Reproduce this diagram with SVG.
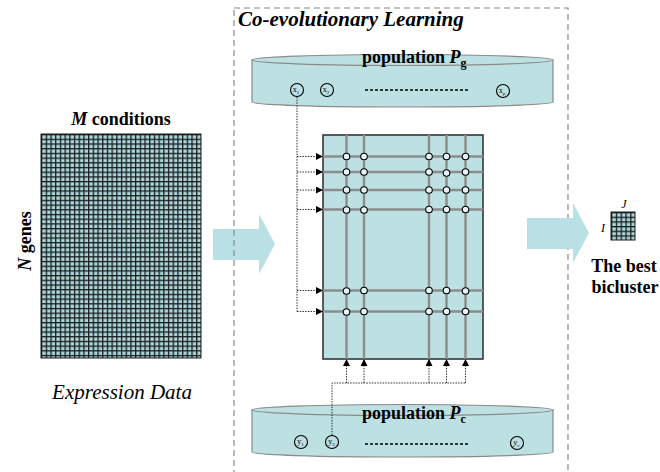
<svg xmlns="http://www.w3.org/2000/svg" width="660" height="472" viewBox="0 0 660 472">
  <style>
    text { font-family: "Liberation Serif", "DejaVu Serif", "Times New Roman", serif; fill: #000; }
    .lbl { font-weight: bold; font-size: 18px; }
    .cyl { fill: #bde0e3; stroke: #8a8a8a; stroke-width: 1.2; }
    .cylTop { fill: #bde0e3; stroke: #8a8a8a; stroke-width: 1.2; }
    .node { fill: none; stroke: #000; stroke-width: 1.1; }
    .nodeTxt { font-size: 8px; }
    .ellip { stroke: #000; stroke-width: 1.3; stroke-dasharray: 3 2; fill: none; }
    .gridLine { stroke: #8c8c8c; stroke-width: 2.4; fill: none; }
    .hit { fill: #e6f4f5; stroke: #000; stroke-width: 1.1; }
    .conn { stroke: #333; stroke-width: 1; stroke-dasharray: 1.5 1.2; fill: none; }
    .bigArrow { fill: #b9e0e4; }
  </style>
  <defs>
    <pattern id="cells" patternUnits="userSpaceOnUse" x="41" y="134" width="4.7" height="4.7">
      <rect width="4.7" height="4.7" fill="#1c1c1c"/>
      <rect x="1.3" y="1.3" width="3.4" height="3.4" fill="#a9d7dc"/>
    </pattern>
    <pattern id="biCells" patternUnits="userSpaceOnUse" x="611" y="212" width="4.8" height="4.67">
      <rect width="4.8" height="4.67" fill="#1c1c1c"/>
      <rect x="1.3" y="1.3" width="3.5" height="3.37" fill="#a9d7dc"/>
    </pattern>
    <marker id="tip" viewBox="0 0 10 10" refX="10" refY="5" markerWidth="7" markerHeight="7" markerUnits="userSpaceOnUse" orient="auto">
      <path d="M0,0 L10,5 L0,10 z" fill="#000"/>
    </marker>
  </defs>

  <rect width="660" height="472" fill="#fff"/>

  <!-- expression data matrix -->
  <g id="expression-data">
    <text class="lbl" x="121" y="125" text-anchor="middle"><tspan font-style="italic">M</tspan> conditions</text>
    <text class="lbl" transform="translate(31,241) rotate(-90)" text-anchor="middle"><tspan font-style="italic">N</tspan> genes</text>
    <rect x="41" y="134" width="160" height="224" fill="url(#cells)" stroke="#1c1c1c" stroke-width="1"/>
    <text x="122" y="399" text-anchor="middle" font-size="21" font-style="italic">Expression Data</text>
  </g>

  <!-- input arrow -->
  <g id="arrow-in">
    <path class="bigArrow" d="M213,229 L259,229 L259,214 L275,244 L259,274 L259,260 L213,260 z"/>
  </g>

  <!-- co-evolution frame -->
  <g id="coevolution-frame">
    <rect x="234" y="8" width="334" height="480" fill="none" stroke="#8a8a8a" stroke-width="1.2" stroke-dasharray="6 4"/>
    <text x="238" y="26" font-size="21" font-weight="bold" font-style="italic">Co-evolutionary Learning</text>
  </g>

  <!-- gene population -->
  <g id="population-g">
    <path class="cyl" d="M252,60 L252,102 A150.5,5 0 0 0 553,102 L553,60 z"/>
    <ellipse class="cylTop" cx="402.5" cy="60" rx="150.5" ry="5.5"/>
    <text class="lbl" x="362" y="63">population <tspan font-style="italic">P</tspan><tspan font-size="12" dy="4">g</tspan></text>
    <circle class="node" cx="297" cy="90" r="6.5"/>
    <text class="nodeTxt" x="296" y="92" text-anchor="middle">x<tspan font-size="5" dy="2">1</tspan></text>
    <circle class="node" cx="327" cy="90" r="6.5"/>
    <text class="nodeTxt" x="326" y="92" text-anchor="middle">x<tspan font-size="5" dy="2">2</tspan></text>
    <line class="ellip" x1="365" y1="90" x2="468" y2="90"/>
    <circle class="node" cx="503" cy="91" r="6.5"/>
    <text class="nodeTxt" x="502" y="93" text-anchor="middle">x<tspan font-size="5" dy="2">p</tspan></text>
  </g>

  <!-- condition population -->
  <g id="population-c">
    <path class="cyl" d="M252,410 L252,452 A150.5,5 0 0 0 553,452 L553,410 z"/>
    <ellipse class="cylTop" cx="402.5" cy="410" rx="150.5" ry="5.5"/>
    <text class="lbl" x="362" y="419">population <tspan font-style="italic">P</tspan><tspan font-size="12" dy="4">c</tspan></text>
    <circle class="node" cx="301" cy="442" r="6.5"/>
    <text class="nodeTxt" x="300.5" y="444" text-anchor="middle">y<tspan font-size="5" dy="1.5">1</tspan></text>
    <circle class="node" cx="332" cy="442" r="6.5"/>
    <text class="nodeTxt" x="331.5" y="444" text-anchor="middle">y<tspan font-size="5" dy="1.5">2</tspan></text>
    <line class="ellip" x1="365" y1="444" x2="468" y2="444"/>
    <circle class="node" cx="517" cy="443" r="6.5"/>
    <text class="nodeTxt" x="516.5" y="445" text-anchor="middle" font-style="italic">y<tspan font-size="5" dy="1.5">v</tspan></text>
  </g>

  <!-- candidate bicluster on the data matrix -->
  <g id="matrix">
    <rect x="323" y="135" width="160" height="224" fill="#bde0e3" stroke="#2a2a2a" stroke-width="1.5"/>
    <g class="gridLine">
      <line x1="323" y1="156.5" x2="483" y2="156.5"/>
      <line x1="323" y1="172" x2="483" y2="172"/>
      <line x1="323" y1="190" x2="483" y2="190"/>
      <line x1="323" y1="209.5" x2="483" y2="209.5"/>
      <line x1="323" y1="290.5" x2="483" y2="290.5"/>
      <line x1="323" y1="311.5" x2="483" y2="311.5"/>
      <line x1="346.5" y1="135" x2="346.5" y2="359"/>
      <line x1="364" y1="135" x2="364" y2="359"/>
      <line x1="429" y1="135" x2="429" y2="359"/>
      <line x1="446.5" y1="135" x2="446.5" y2="359"/>
      <line x1="465.5" y1="135" x2="465.5" y2="359"/>
    </g>
    <g class="hit">
      <circle cx="346.5" cy="156.5" r="3.3"/><circle cx="364" cy="156.5" r="3.3"/><circle cx="429" cy="156.5" r="3.3"/><circle cx="446.5" cy="156.5" r="3.3"/><circle cx="465.5" cy="156.5" r="3.3"/>
      <circle cx="346.5" cy="172" r="3.3"/><circle cx="364" cy="172" r="3.3"/><circle cx="429" cy="172" r="3.3"/><circle cx="446.5" cy="173" r="3.3"/><circle cx="465.5" cy="172" r="3.3"/>
      <circle cx="346.5" cy="190" r="3.3"/><circle cx="364" cy="190" r="3.3"/><circle cx="429" cy="190" r="3.3"/><circle cx="446.5" cy="190" r="3.3"/><circle cx="465.5" cy="190" r="3.3"/>
      <circle cx="346.5" cy="210" r="3.3"/><circle cx="364" cy="210" r="3.3"/><circle cx="429" cy="209.5" r="3.3"/><circle cx="446.5" cy="209.5" r="3.3"/><circle cx="465.5" cy="209.5" r="3.3"/>
      <circle cx="346.5" cy="291" r="3.3"/><circle cx="364" cy="290.5" r="3.3"/><circle cx="429" cy="290.5" r="3.3"/><circle cx="446.5" cy="290.5" r="3.3"/><circle cx="465.5" cy="291" r="3.3"/>
      <circle cx="346.5" cy="312" r="3.3"/><circle cx="364" cy="311.5" r="3.3"/><circle cx="429" cy="311.5" r="3.3"/><circle cx="446.5" cy="311.5" r="3.3"/><circle cx="465.5" cy="311.5" r="3.3"/>
    </g>
  </g>

  <!-- selection connectors -->
  <g id="connectors">
    <path class="conn" d="M297,97 V311.5"/>
    <line class="conn" x1="297" y1="156.5" x2="323" y2="156.5" marker-end="url(#tip)"/>
    <line class="conn" x1="297" y1="172" x2="323" y2="172" marker-end="url(#tip)"/>
    <line class="conn" x1="297" y1="190" x2="323" y2="190" marker-end="url(#tip)"/>
    <line class="conn" x1="297" y1="209.5" x2="323" y2="209.5" marker-end="url(#tip)"/>
    <line class="conn" x1="297" y1="290.5" x2="323" y2="290.5" marker-end="url(#tip)"/>
    <line class="conn" x1="297" y1="311.5" x2="323" y2="311.5" marker-end="url(#tip)"/>
    <path class="conn" d="M332,435 V383 H466"/>
    <line class="conn" x1="346.5" y1="383" x2="346.5" y2="359" marker-end="url(#tip)"/>
    <line class="conn" x1="364" y1="383" x2="364" y2="359" marker-end="url(#tip)"/>
    <line class="conn" x1="429" y1="383" x2="429" y2="359" marker-end="url(#tip)"/>
    <line class="conn" x1="446.5" y1="383" x2="446.5" y2="359" marker-end="url(#tip)"/>
    <line class="conn" x1="465.5" y1="383" x2="465.5" y2="359" marker-end="url(#tip)"/>
  </g>

  <!-- output arrow -->
  <g id="arrow-out">
    <path class="bigArrow" d="M527,218 L573,218 L573,203 L589,233 L573,263 L573,249 L527,249 z"/>
  </g>

  <!-- best bicluster -->
  <g id="best-bicluster">
    <rect x="611" y="212" width="24" height="28" fill="url(#biCells)" stroke="#1c1c1c" stroke-width="1"/>
    <text x="624" y="208" font-size="12" font-style="italic" text-anchor="middle">J</text>
    <text x="603" y="232" font-size="12" font-style="italic" text-anchor="middle">I</text>
    <text class="lbl" x="624" y="272" text-anchor="middle">The best</text>
    <text class="lbl" x="625" y="293" text-anchor="middle">bicluster</text>
  </g>
</svg>
